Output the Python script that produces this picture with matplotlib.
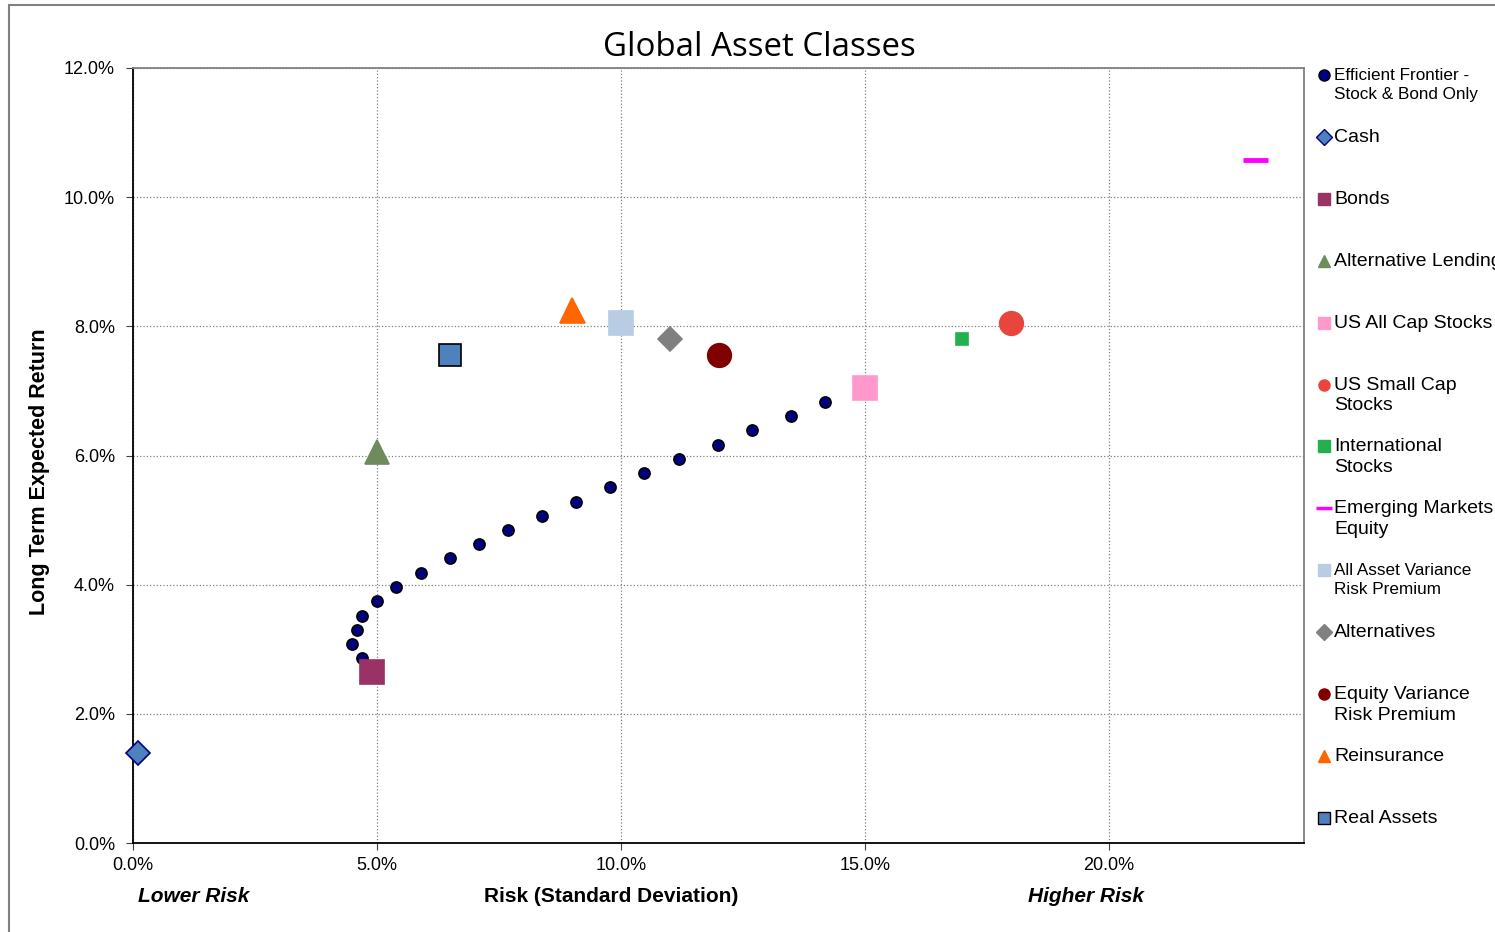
import matplotlib.pyplot as plt
import matplotlib.patches as patches
from matplotlib.ticker import FuncFormatter, MultipleLocator

plt.rcParams['font.family'] = ['Liberation Sans', 'DejaVu Sans']

# Efficient frontier (risk %, return %)
frontier_risk = [4.69, 4.49, 4.59, 4.69, 5.0, 5.39, 5.90, 6.50, 7.09, 7.68,
                 8.38, 9.08, 9.77, 10.47, 11.19, 11.99, 12.68, 13.48, 14.18]
frontier_ret = [2.86, 3.08, 3.30, 3.51, 3.75, 3.96, 4.18, 4.41, 4.63, 4.85,
                5.06, 5.28, 5.51, 5.73, 5.94, 6.16, 6.39, 6.61, 6.83]

# Asset classes
assets = ['Cash', 'Bonds', 'Alternative Lending', 'US All Cap Stocks',
          'US Small Cap\nStocks', 'International\nStocks', 'Emerging Markets\nEquity',
          'All Asset Variance\nRisk Premium', 'Alternatives',
          'Equity Variance\nRisk Premium', 'Reinsurance', 'Real Assets']
asset_risk = [0.1, 4.9, 5.0, 15.0, 18.0, 17.0, 23.0, 10.0, 11.0, 12.0, 9.0, 6.5]
asset_ret = [1.40, 2.65, 6.05, 7.05, 8.05, 7.80, 10.57, 8.05, 7.80, 7.55, 8.25, 7.55]

markers = ['D', 's', '^', 's', 'o', 's', '_', 's', 'D', 'o', '^', 's']
sizes = [12, 17, 17, 17, 17, 8, 18, 17, 12, 17, 18, 16]
colors = ['#4F81BD', '#993366', '#6E8B5E', '#FF99CC', '#E8463C', '#22B14C',
          '#FF00FF', '#B8CCE4', '#808080', '#800000', '#FF6600', '#4F81BD']
edges = ['#000080', '#993366', '#6E8B5E', '#FF99CC', '#E8463C', '#22B14C',
         '#FF00FF', '#B8CCE4', '#808080', '#800000', '#FF6600', '#000000']

fig = plt.figure(figsize=(14.95, 9.32), dpi=100)
ax = fig.add_axes([133 / 1495, 1 - 843 / 932, 1171 / 1495, 775 / 932])

ax.plot([r / 100 for r in frontier_risk], [r / 100 for r in frontier_ret], 'o',
        ms=8, mfc='#000080', mec='black', mew=1.2, zorder=3)
for i in range(len(assets)):
    mew = 3.5 if markers[i] == '_' else 1.2
    ax.plot(asset_risk[i] / 100, asset_ret[i] / 100, markers[i], ms=sizes[i],
            mfc=colors[i], mec=edges[i], mew=mew, zorder=4, clip_on=False)

ax.set_xlim(0, 0.24)
ax.set_ylim(0, 0.12)
ax.xaxis.set_major_locator(MultipleLocator(0.05))
ax.yaxis.set_major_locator(MultipleLocator(0.02))
pct = FuncFormatter(lambda v, p: '%.1f%%' % (v * 100))
ax.xaxis.set_major_formatter(pct)
ax.yaxis.set_major_formatter(pct)
ax.tick_params(labelsize=13, direction='out', length=5, color='#404040')
ax.tick_params(axis='x', pad=5)
ax.tick_params(axis='y', pad=8)
ax.grid(True, linestyle=':', color='#808080', lw=0.9)
ax.set_axisbelow(True)
for s in ['left', 'bottom']:
    ax.spines[s].set_color('black')
    ax.spines[s].set_linewidth(1.3)
for s in ['top', 'right']:
    ax.spines[s].set_color('#808080')
    ax.spines[s].set_linewidth(1.3)

fig.text(759 / 1495, 1 - 47 / 932, 'Global Asset Classes', fontsize=23.8,
         family=['Open Sans', 'DejaVu Sans'], ha='center', va='center')
fig.text(611 / 1495, 1 - 897 / 932, 'Risk (Standard Deviation)', fontsize=15,
         fontweight='bold', ha='center', va='center')
fig.text(194 / 1495, 1 - 897 / 932, 'Lower Risk', fontsize=15,
         fontweight='bold', style='italic', ha='center', va='center')
fig.text(1086 / 1495, 1 - 897 / 932, 'Higher Risk', fontsize=15,
         fontweight='bold', style='italic', ha='center', va='center')
fig.text(40 / 1495, 1 - 472 / 932, 'Long Term Expected Return', fontsize=15.5,
         fontweight='bold', rotation=90, ha='center', va='center')

# legend drawn by hand: evenly spaced entries
leg_labels = ['Efficient Frontier -\nStock & Bond Only'] + assets
leg_markers = ['o'] + markers
leg_colors = ['#000080'] + colors
leg_edges = ['#000000'] + edges
leg_small = [True, False, False, False, False, False, False, False, True,
             False, False, False, False]
for i, lab in enumerate(leg_labels):
    y = 1 - (75 + i * 61.9) / 932
    m = leg_markers[i]
    ms = 8 if m in ('D', '^', 'o') else 8.5
    mew = 2.5 if m == '_' else 1.0
    if m == '_':
        ms = 11
    fig.lines.append(plt.Line2D([1324 / 1495], [y], marker=m, ms=ms, mfc=leg_colors[i],
                                mec=leg_edges[i], mew=mew, transform=fig.transFigure))
    fs = 12.3 if leg_small[i] else 14
    off = 7 if leg_small[i] else 8
    fig.text(1334 / 1495, y + off / 932, lab, fontsize=fs, ha='left', va='top',
             linespacing=1.3)

frame = patches.Rectangle((8.5 / 1495, -0.05), 1.0, 1.05 - 4.5 / 932, fill=False,
                          edgecolor='#808080', lw=1.5, transform=fig.transFigure)
fig.patches.append(frame)

fig.savefig('out.png', dpi=100)
